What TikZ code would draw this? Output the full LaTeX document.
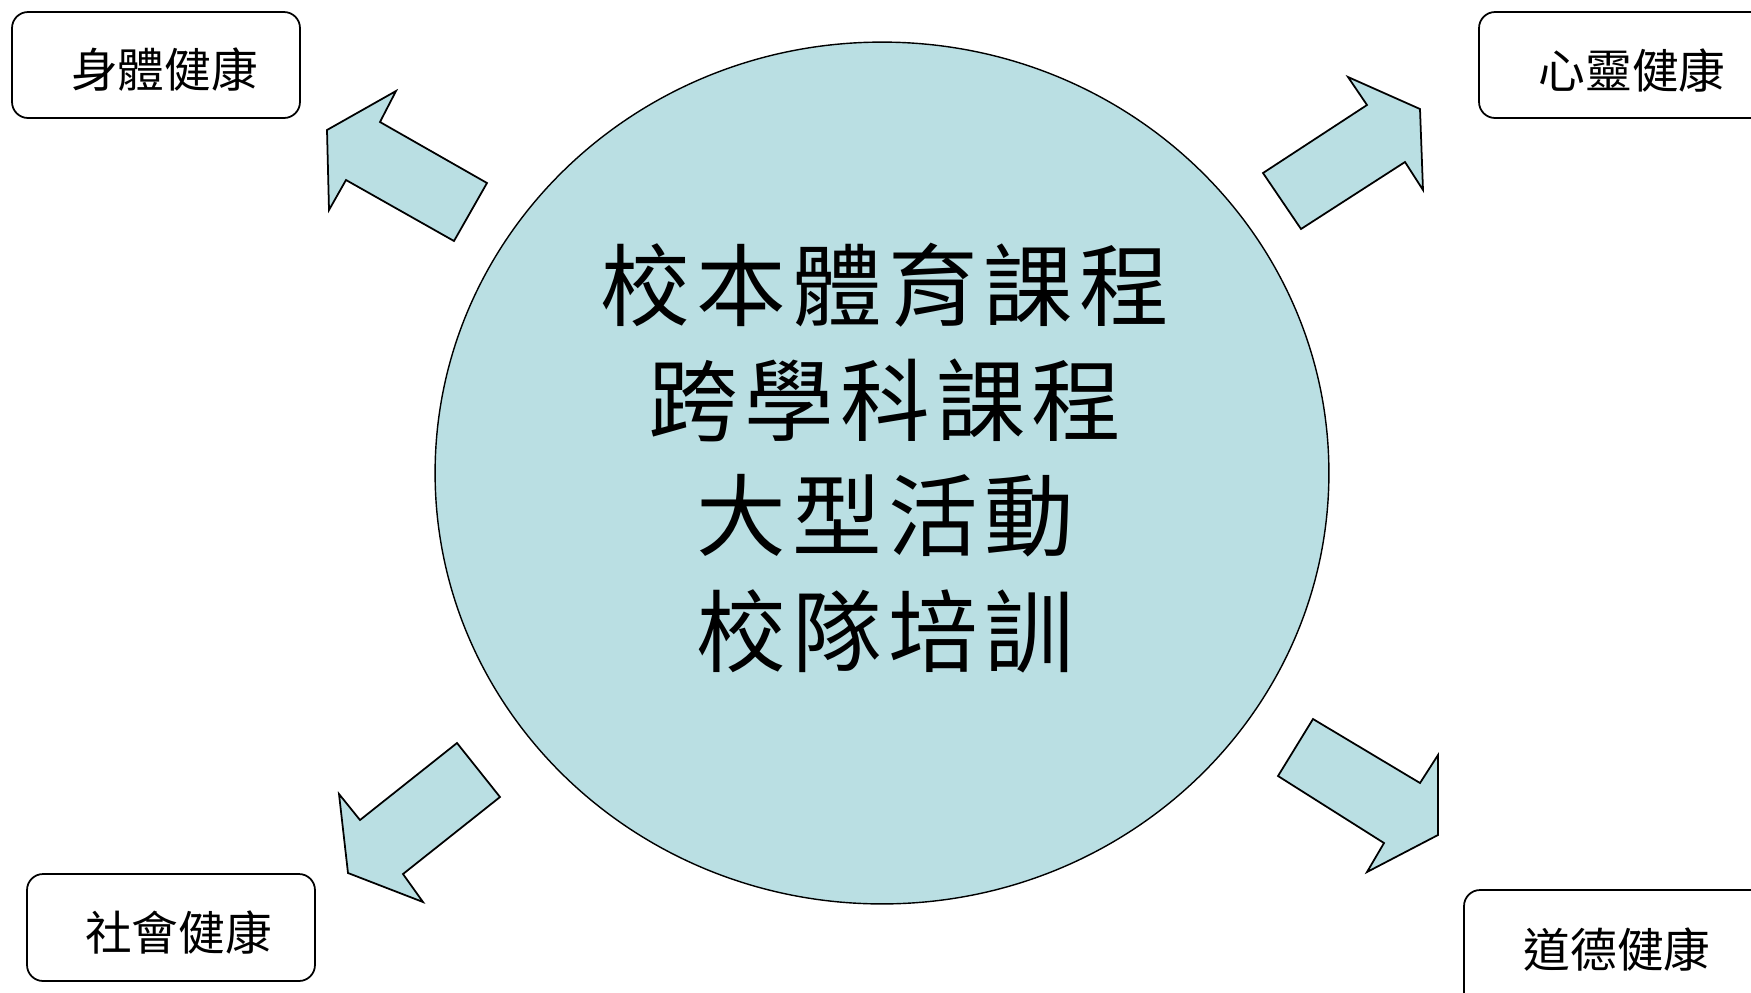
\documentclass[tikz,border=0pt]{standalone}
\usepackage{fontspec}
\usetikzlibrary{shapes.geometric}
\newfontfamily\cjk{Noto Sans CJK TC}
\newfontfamily\cjkwide[LetterSpace=7]{Noto Sans CJK TC}
\definecolor{hubblue}{RGB}{186,223,227}
\newcommand{\shifttext}[3]{\hspace*{#1}\raisebox{#2}[\height][\depth]{#3}}
\tikzset{
  outcome/.style={draw=black, line width=1pt, rounded corners=0.32cm, fill=white,
    minimum width=#1, minimum height=2.12cm, inner sep=0pt,
    font=\cjk\fontsize{26.6}{30}\selectfont},
  blockarrow/.style={draw=black, line width=1pt, fill=hubblue, line join=miter},
}
\begin{document}
\begin{tikzpicture}[x=0.02cm, y=-0.02cm]
\clip (0,0) rectangle (1751,992);
\fill[white] (0,0) rectangle (1751,992);
% hub
\node[ellipse, draw=black, line width=0.8pt, fill=hubblue, minimum width=17.88cm, minimum height=17.24cm, inner sep=0pt] (hub) at (882,473) {};
\node[align=center, font=\cjkwide\fontsize{51}{65.5}\selectfont, inner sep=0pt] (hubtext) at (885,458)
  {校本體育課程\\跨學科課程\\大型活動\\校隊培訓};
% outcome boxes
\node[outcome=5.76cm] (body) at (156,65) {\shifttext{0.34cm}{-0.1cm}{身體健康}};
\node[outcome=5.82cm] (mind) at (1624.5,65) {\shifttext{0.3cm}{-0.1cm}{心靈健康}};
\node[outcome=5.76cm, minimum height=2.14cm] (social) at (171,927.5) {\shifttext{0.3cm}{-0.1cm}{社會健康}};
\node[outcome=6.12cm, minimum height=2.4cm] (moral) at (1617,950) {\shifttext{0pt}{0pt}{道德健康}};
% block arrows
\draw[blockarrow] (327,130) -- (396,91) -- (380,122) -- (487,183) -- (454,241) -- (346,180) -- (329,210) -- cycle;
\draw[blockarrow] (1263,173) -- (1367,105) -- (1348,77) -- (1420,109) -- (1423,190) -- (1405,162) -- (1301,229) -- cycle;
\draw[blockarrow] (457,743) -- (500,797) -- (403,874) -- (423,902) -- (348,873) -- (339,794) -- (360,820) -- cycle;
\draw[blockarrow] (1313,719) -- (1420,783) -- (1438,755) -- (1438,835) -- (1367,872) -- (1384,843) -- (1278,776) -- cycle;
\end{tikzpicture}
\end{document}
